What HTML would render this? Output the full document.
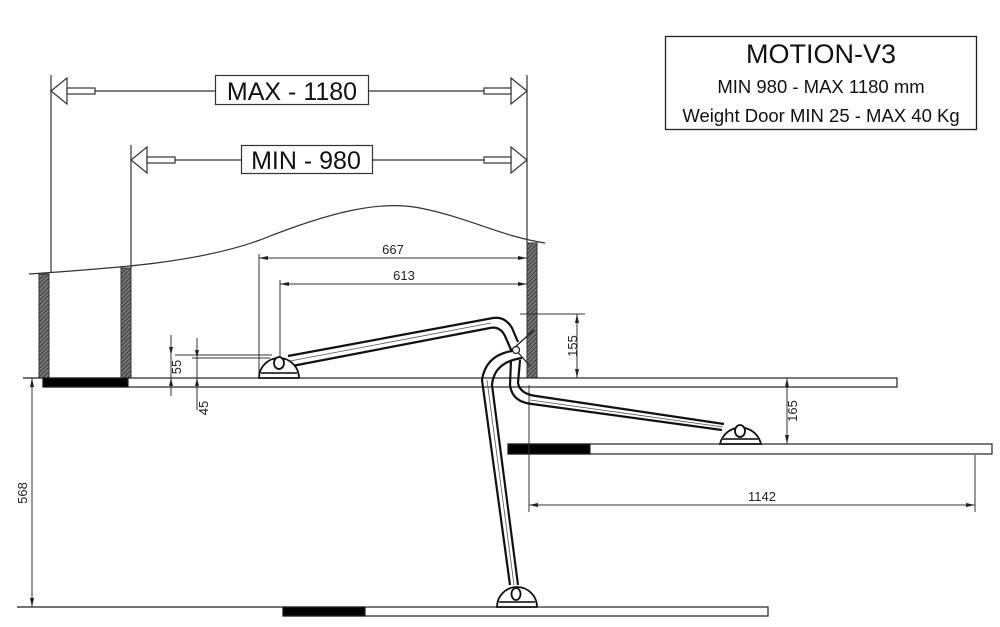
<!DOCTYPE html>
<html><head><meta charset="utf-8"><style>html,body{margin:0;padding:0;background:#fff}svg{display:block}</style></head><body>
<svg width="1000" height="627" viewBox="0 0 1000 627" xmlns="http://www.w3.org/2000/svg" font-family="Liberation Sans, sans-serif">
<defs>
<pattern id="h" width="3" height="3" patternUnits="userSpaceOnUse" patternTransform="rotate(45)"><rect width="3" height="3" fill="#777"/><line x1="0" y1="0" x2="0" y2="3" stroke="#222" stroke-width="1.4"/></pattern>
</defs>
<rect width="1000" height="627" fill="#fff"/>
<rect x="665.5" y="36.5" width="311" height="93" fill="#fff" stroke="#222" stroke-width="1.3"/>
<text x="821" y="63" font-size="27" text-anchor="middle" fill="#111">MOTION-V3</text>
<text x="821" y="93" font-size="18.5" text-anchor="middle" fill="#111">MIN 980 - MAX 1180 mm</text>
<text x="821" y="122" font-size="18.5" text-anchor="middle" fill="#111">Weight Door MIN 25 - MAX 40 Kg</text>
<g stroke="#333" stroke-width="1.2" fill="#fff">
<line x1="51" y1="75" x2="51" y2="272"/>
<line x1="131" y1="145" x2="131" y2="268"/>
<line x1="527" y1="75" x2="527" y2="243"/>
<line x1="95" y1="91" x2="215" y2="91"/><line x1="368" y1="91" x2="484" y2="91"/>
<polygon points="51,91 67,78 67,104"/><rect x="67" y="88" width="28" height="6"/>
<polygon points="527,91 511,78 511,104"/><rect x="484" y="88" width="27" height="6"/>
<rect x="215.5" y="75.5" width="153" height="29"/>
<line x1="175" y1="160" x2="241" y2="160"/><line x1="372" y1="160" x2="484" y2="160"/>
<polygon points="131,160 147,147 147,173"/><rect x="147" y="157" width="28" height="6"/>
<polygon points="527,160 511,147 511,173"/><rect x="484" y="157" width="27" height="6"/>
<rect x="241.5" y="145.5" width="131" height="28"/>
</g>
<text x="292" y="100" font-size="25" text-anchor="middle" fill="#111">MAX - 1180</text>
<text x="306" y="169" font-size="25" text-anchor="middle" fill="#111">MIN - 980</text>
<path d="M29,274 C120,268 200,262 260,240 C330,212 380,200 420,208 C470,218 500,236 545,243" fill="none" stroke="#333" stroke-width="1.2"/>
<rect x="39" y="274" width="10" height="104" fill="url(#h)" stroke="#333"/>
<rect x="121" y="268" width="10" height="110" fill="url(#h)" stroke="#333"/>
<rect x="527" y="243" width="10" height="135" fill="url(#h)" stroke="#333"/>
<g stroke="#222" stroke-width="1.2">
<line x1="23" y1="378" x2="43" y2="378"/>
<rect x="43" y="378" width="854" height="9" fill="#fff"/>
<rect x="43" y="378" width="85" height="9" fill="#000"/>
<rect x="508" y="444" width="484" height="10" fill="#fff"/>
<rect x="508" y="444" width="82" height="10" fill="#000"/>
<line x1="17" y1="607" x2="283" y2="607"/>
<rect x="283" y="607" width="485" height="9" fill="#fff"/>
<rect x="283" y="607" width="82" height="9" fill="#000"/>
</g>
<g stroke="#333" stroke-width="1" fill="none">
<line x1="259" y1="254" x2="259" y2="378"/><line x1="259" y1="258" x2="527" y2="258"/>
<line x1="280" y1="280" x2="280" y2="378"/><line x1="280" y1="284" x2="527" y2="284"/>
<line x1="520" y1="314" x2="585" y2="314"/><line x1="577" y1="314" x2="577" y2="378"/>
<line x1="787" y1="378" x2="787" y2="444"/>
<line x1="529" y1="385" x2="529" y2="512"/><line x1="975" y1="455" x2="975" y2="512"/><line x1="529" y1="505" x2="975" y2="505"/>
<line x1="32" y1="378" x2="32" y2="607"/>
<line x1="175" y1="355" x2="272" y2="355"/><line x1="192" y1="358" x2="270" y2="358"/>
<line x1="171" y1="335" x2="171" y2="396"/><line x1="197" y1="338" x2="197" y2="410"/>
</g>
<g fill="#222">
<polygon points="259,258 268,256 268,260"/><polygon points="527,258 518,256 518,260"/>
<polygon points="280,284 289,282 289,286"/><polygon points="527,284 518,282 518,286"/>
<polygon points="577,314 575,323 579,323"/><polygon points="577,378 575,369 579,369"/>
<polygon points="787,378 785,387 789,387"/><polygon points="787,444 785,435 789,435"/>
<polygon points="529,505 538,503 538,507"/><polygon points="975,505 966,503 966,507"/>
<polygon points="32,378 30,387 34,387"/><polygon points="32,607 30,598 34,598"/>
<polygon points="171,355 169,347 173,347"/><polygon points="171,378 169,386 173,386"/>
<polygon points="197,358 195,350 199,350"/><polygon points="197,378 195,386 199,386"/>
</g>
<g font-size="13" fill="#222" text-anchor="middle">
<text x="393" y="254">667</text>
<text x="404" y="280">613</text>
<text x="762" y="501">1142</text>
<text transform="translate(577,346) rotate(-90)">155</text>
<text transform="translate(797,411) rotate(-90)">165</text>
<text transform="translate(27,493) rotate(-90)">568</text>
<text transform="translate(181,367) rotate(-90)">55</text>
<text transform="translate(208,408) rotate(-90)">45</text>
</g>
<g fill="none" stroke="#111" stroke-width="2.2">
<path d="M288,356 L493,318 Q505,316 512,328 L518,342"/>
<path d="M292,366 L490,328 Q500,326 505,336 L512,352"/>
<path d="M520,350 Q486,352 482,380 L510,585"/>
<path d="M522,358 Q494,362 492,385 L518,585"/>
<path d="M511,360 L510,385 Q512,402 532,404 L722,430"/>
<path d="M520,360 L518,383 Q520,394 536,396 L724,424"/>
</g>
<g fill="none" stroke="#555" stroke-width="0.8">
<line x1="290" y1="361" x2="491" y2="323"/>
<line x1="487" y1="380" x2="514" y2="585"/>
<line x1="530" y1="400" x2="723" y2="427"/>
</g>
<path d="M514,348 L534,330 M514,348 L530,366" stroke="#222" stroke-width="1.3"/>
<circle cx="516" cy="350" r="3.5" fill="#fff" stroke="#222" stroke-width="1.3"/>
<g stroke="#111" stroke-width="1.8" fill="#fff">
<path d="M259,378 A20,20 0 0 1 299,378 Z"/>
<ellipse cx="279" cy="363" rx="5" ry="6"/>
<path d="M720,444 A21,21 0 0 1 761,444 Z"/>
<ellipse cx="740" cy="431" rx="5" ry="6"/>
<path d="M497,607 A20,20 0 0 1 537,607 Z"/>
<ellipse cx="516" cy="594" rx="4.5" ry="6"/>
</g>
<g stroke="#444" stroke-width="2">
<line x1="261" y1="373" x2="297" y2="373"/>
<line x1="722" y1="439" x2="759" y2="439"/>
<line x1="499" y1="602" x2="535" y2="602"/>
</g>
</svg>
</body></html>
